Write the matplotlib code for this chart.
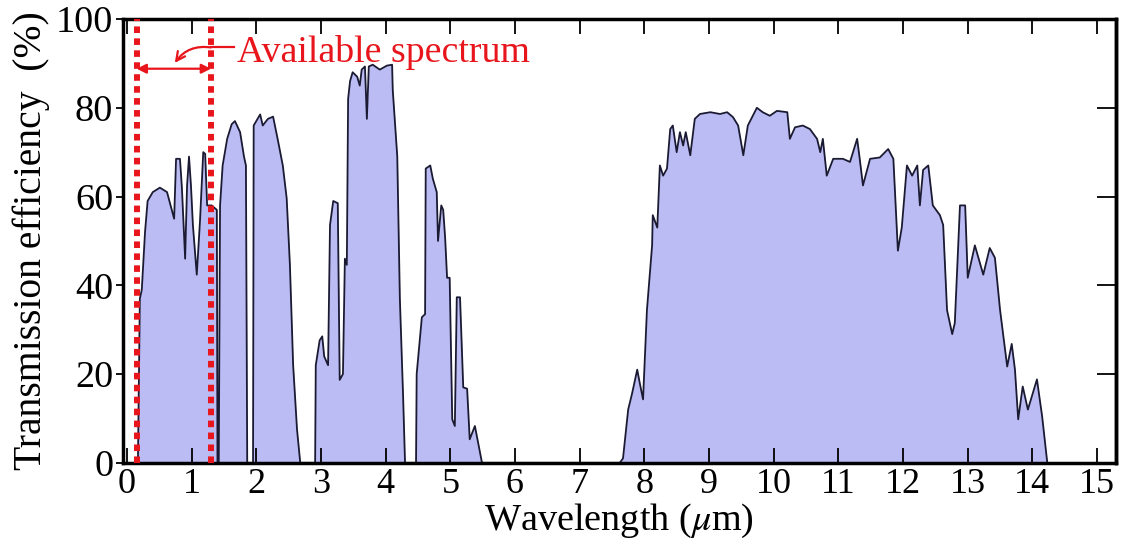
import numpy as np
import matplotlib.pyplot as plt

# Ventanas de transmision atmosferica
b1_x = [0.17, 0.20, 0.23, 0.28, 0.32, 0.40, 0.51, 0.62, 0.70, 0.73, 0.76, 0.82, 0.85,
        0.90, 0.93, 0.96, 0.99, 1.02, 1.08, 1.13, 1.18, 1.21, 1.24, 1.31, 1.39, 1.40]
b1_y = [0, 37, 39, 52, 59, 61, 62, 61, 56.7, 55, 68.5, 68.5, 62,
        46, 62.5, 69, 62.5, 53.6, 42.4, 54.5, 70, 69.6, 58, 58, 57, 0]

b2_x = [1.42, 1.44, 1.48, 1.55, 1.62, 1.67, 1.75, 1.81, 1.84, 1.86]
b2_y = [0, 58, 67, 73, 76.3, 77, 74.5, 69, 67, 0]

b3_x = [1.95, 1.96, 2.06, 2.10, 2.18, 2.26, 2.33, 2.41, 2.47, 2.52, 2.57, 2.63, 2.68]
b3_y = [0, 76, 78.5, 76, 77.5, 78, 73, 67, 59.6, 44.6, 22, 7.5, 0]

b4_x = [2.91, 2.92, 2.98, 3.02, 3.05, 3.11, 3.14, 3.19, 3.26, 3.29, 3.34, 3.37, 3.40,
        3.42, 3.45, 3.49, 3.56, 3.60, 3.63, 3.68, 3.71, 3.74, 3.80, 3.91, 4.02, 4.10,
        4.11, 4.18, 4.22, 4.27, 4.30]
b4_y = [0, 22, 27.6, 28.5, 24, 22, 53.6, 59, 58.5, 18.7, 20, 46, 44.6,
        82, 86, 88, 87, 85, 88.6, 89.3, 77.5, 89.3, 89.7, 88.6, 89.5, 89.7,
        84, 69, 37, 15, 0]

b5_x = [4.47, 4.48, 4.56, 4.61, 4.62, 4.69, 4.73, 4.79, 4.81, 4.86, 4.89, 4.92, 4.95,
        4.99, 5.03, 5.07, 5.10, 5.15, 5.20, 5.26, 5.30, 5.38, 5.43, 5.49]
b5_y = [0, 20, 32.8, 33.5, 66.3, 67, 64, 61, 50, 58, 57, 50.7, 41.7,
        41.7, 9.8, 8.3, 37.3, 37.3, 17, 16.7, 5.3, 8.3, 4.5, 0]

b6_x = [7.62, 7.67, 7.75, 7.81, 7.89, 7.93, 7.98, 8.04, 8.12, 8.13, 8.20, 8.24, 8.29,
        8.35, 8.40, 8.44, 8.50, 8.55, 8.60, 8.64, 8.71, 8.78, 8.86, 9.02, 9.17, 9.28,
        9.37, 9.45, 9.53, 9.60, 9.74, 9.83, 9.94, 10.05, 10.21, 10.25, 10.33, 10.45,
        10.56, 10.67, 10.72, 10.76, 10.82, 10.92, 11.07, 11.18, 11.29, 11.33, 11.38,
        11.49, 11.64, 11.77, 11.85, 11.92, 11.98, 12.06, 12.14, 12.22, 12.26, 12.31,
        12.39, 12.46, 12.57, 12.62, 12.68, 12.76, 12.80, 12.88, 12.96, 13.00, 13.11,
        13.24, 13.34, 13.42, 13.50, 13.61, 13.68, 13.73, 13.78, 13.85, 13.93, 14.07,
        14.15, 14.23]
b6_y = [0, 1, 12, 15.6, 21, 17.9, 14.3, 34.4, 49, 55.8, 53, 67, 64.7,
        66.3, 75.2, 76, 70, 74.5, 71.5, 74.5, 69.3, 77.5, 78.6, 79, 78.6, 79,
        77.9, 76, 69.3, 76, 80, 79, 78.2, 79.3, 79, 73, 75.6, 76,
        75.2, 73, 70, 73, 64.7, 68.5, 68.5, 67.8, 73, 68.5, 62.5,
        68.5, 68.8, 70.7, 68.5, 47.8, 53, 67, 64.7, 67, 58, 66,
        67, 58, 55.8, 53.6, 34.4, 29, 31.5, 58, 58, 41.7, 49,
        42.4, 48.4, 46.2, 34.4, 21.7, 26.8, 21, 9.8, 17.2, 12, 18.8,
        10.5, 0]

limites_banda = [0.15, 1.3]   # espectro disponible
x_ticks = list(range(0, 16))
y_ticks = [0, 20, 40, 60, 80, 100]

# Unimos todas las ventanas
longitud = np.array(b1_x + b2_x + b3_x + b4_x + b5_x + b6_x)
transmision = np.array(b1_y + b2_y + b3_y + b4_y + b5_y + b6_y)

plt.rcParams['font.family'] = ['Liberation Serif', 'DejaVu Serif']
plt.rcParams['mathtext.fontset'] = 'stix'

rojo = '#e8161c'

fig, ax = plt.subplots(figsize=(11.34, 5.51), dpi=100)
fig.subplots_adjust(left=0.1085, right=0.984, bottom=0.16, top=0.9655)

ax.fill_between(longitud, transmision, color='#bcbcf5', lw=0)
ax.plot(longitud, transmision, color='#1a1a33', lw=1.3)

# Lineas rojas del espectro disponible
for xb in limites_banda:
    ax.axvline(xb, color=rojo, lw=4.3, linestyle=(0, (1.1, 0.9)), zorder=5)

ax.annotate('', xy=(limites_banda[0], 88.8), xytext=(limites_banda[1], 88.8),
            arrowprops=dict(arrowstyle='<|-|>', color=rojo, lw=1.6, mutation_scale=14,
                            shrinkA=0, shrinkB=0), zorder=6)
ax.plot([limites_banda[1], 1.66], [93.6, 93.6], color=rojo, lw=1.6, zorder=6)
ax.annotate('', xy=(0.74, 90.1), xytext=(limites_banda[1], 93.6),
            arrowprops=dict(arrowstyle='->', color=rojo, lw=1.6, mutation_scale=16,
                            shrinkA=0, shrinkB=0, connectionstyle='arc3,rad=0.3'), zorder=6)
ax.text(1.70, 90.4, 'Available spectrum', color=rojo, fontsize=27.3, ha='left', va='baseline')

ax.set_xlim(-0.06, 15.29)
ax.set_ylim(0, 100)
ax.set_xticks(x_ticks)
ax.set_yticks(y_ticks)
ax.tick_params(axis='x', direction='in', length=11, width=1.3, labelsize=26, top=True, pad=4)
ax.tick_params(axis='y', direction='out', length=5, width=1.3, labelsize=27.5, right=False, pad=2)
# marcas interiores en el eje derecho
der = ax.secondary_yaxis('right')
der.set_yticks(y_ticks)
der.tick_params(direction='in', length=14, width=1.3, labelright=False)
for s in list(ax.spines.values()) + list(der.spines.values()):
    s.set_linewidth(2.5)

ax.set_xlabel('Wavelength ($\\mu$m)', fontsize=27.5, labelpad=0)
ax.set_ylabel('Transmission efficiency  (%)', fontsize=28.5, labelpad=4)

plt.savefig('out.png', dpi=100)
